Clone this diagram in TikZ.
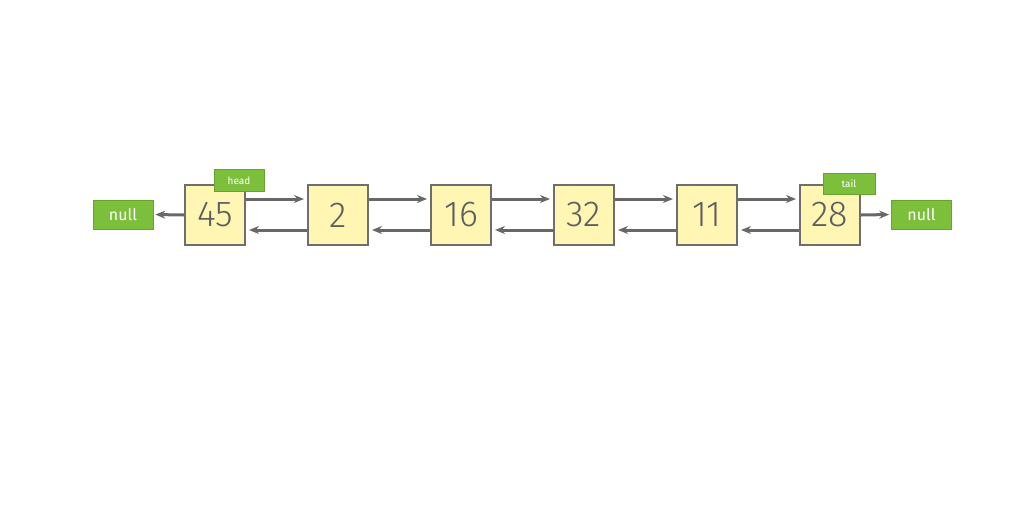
\documentclass[tikz,border=0pt]{standalone}
\usepackage{fontspec}
\setmainfont{Fira Sans}
\newfontfamily\numfont{Fira Sans Light}
\usetikzlibrary{arrows.meta}
\definecolor{boxfill}{HTML}{FFF6B3}
\definecolor{boxline}{HTML}{6E6E6E}
\definecolor{grn}{HTML}{7CBF3A}
\definecolor{arr}{HTML}{686868}
\definecolor{numc}{HTML}{5E5E5E}
\tikzset{
  listnode/.style={draw=boxline, line width=2pt, fill=boxfill, minimum width=60pt, minimum height=60pt, inner sep=0pt, text=numc, font=\numfont\fontsize{36}{36}\selectfont},
  nullbox/.style={draw=grn!85!black, line width=0.6pt, fill=grn, minimum width=60pt, minimum height=29pt, inner sep=0pt, text=white, font=\fontsize{16}{16}\selectfont},
  tagbox/.style={draw=grn!85!black, line width=0.6pt, fill=grn, minimum width=50pt, minimum height=22pt, inner sep=0pt, text=white, font=\fontsize{10}{10}\selectfont},
  link/.style={draw=arr, line width=3pt, -{Stealth[length=10pt,width=8pt]}, shorten >=3pt}
}
\begin{document}
\begin{tikzpicture}[x=1pt,y=-1pt]
\useasboundingbox (0,0) rectangle (1024,512);
\node[nullbox] (nl) at (123,214.5) {null};
\node[nullbox] (nr) at (921.5,214.5) {null};
\node[listnode] (a) at (215,215) {45};
\node[listnode] (b) at (338,215) {2};
\node[listnode] (c) at (461,215) {16};
\node[listnode] (d) at (584,215) {32};
\node[listnode] (e) at (707,215) {11};
\node[listnode] (f) at (830,215) {28};
\node[tagbox] (hd) at (239,180.5) {head};
\node[tagbox, minimum width=52pt, minimum height=21pt] (tl) at (849,183.5) {tail};
\foreach \u/\v in {a/b,b/c,c/d,d/e,e/f}{
  \draw[link] ([yshift=16pt]\u.east) -- ([yshift=16pt]\v.west);
  \draw[link] ([yshift=-15pt]\v.west) -- ([yshift=-15pt]\u.east);
}
\draw[link, shorten >=2pt] (a.west) -- (nl.east);
\draw[link, shorten >=2pt] (f.east) -- (nr.west);
\end{tikzpicture}
\end{document}
